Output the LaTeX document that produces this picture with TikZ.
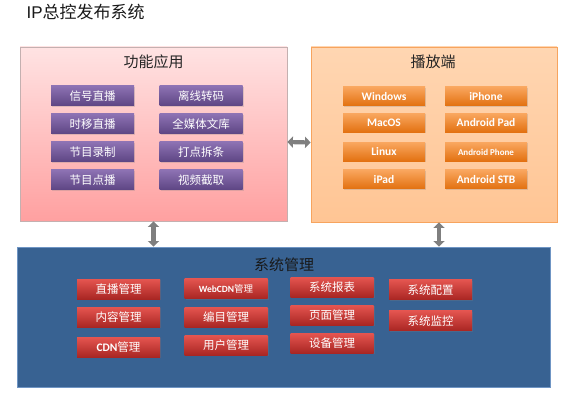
\documentclass[tikz,border=0pt]{standalone}
\usepackage{fontspec}
\setmainfont{Noto Sans CJK SC}
\newfontfamily\latin{Carlito}
\newfontfamily\headfont{Liberation Sans}
\usepackage{tikz}
\usetikzlibrary{arrows.meta,calc,positioning,shadows}
\definecolor{PinkTop}{HTML}{FFE3E3}
\definecolor{PinkBot}{HTML}{FFA0A0}
\definecolor{PinkLine}{HTML}{C4B0B0}
\definecolor{OrangeTop}{HTML}{FFD6B2}
\definecolor{OrangeBot}{HTML}{FFC594}
\definecolor{OrangeLine}{HTML}{F7A45E}
\definecolor{SysBlue}{HTML}{386292}
\definecolor{SysLine}{HTML}{6F95C4}
\definecolor{PurpleTop}{HTML}{8D72B3}
\definecolor{PurpleBot}{HTML}{5D4583}
\definecolor{BtnOrangeTop}{HTML}{F9A65E}
\definecolor{BtnOrangeBot}{HTML}{E2700F}
\definecolor{BtnRedTop}{HTML}{E3544F}
\definecolor{BtnRedBot}{HTML}{A82522}
\definecolor{LinkGray}{HTML}{7F7F7F}

\begin{document}
\begin{tikzpicture}[x=1pt,y=-1pt,>=Latex,
  panel/.style={draw,line width=0.8pt,inner sep=0pt},
  paneltitle/.style={font=\fontsize{15}{16}\selectfont,text=black!85},
  btn/.style={minimum width=83pt,minimum height=20pt,inner sep=0pt,text=white,
    font=\fontsize{11.5}{12}\selectfont,
    drop shadow={shadow xshift=1pt,shadow yshift=-1pt,opacity=0.25}},
  funcbtn/.style={btn,top color=PurpleTop,bottom color=PurpleBot},
  playbtn/.style={btn,minimum height=19pt,top color=BtnOrangeTop,bottom color=BtnOrangeBot,
    font=\latin\bfseries\fontsize{11.5}{12}\selectfont},
  sysbtn/.style={btn,top color=BtnRedTop,bottom color=BtnRedBot},
  link/.style={{Triangle[width=11pt,length=5.5pt]}-{Triangle[width=11pt,length=5.5pt]},
    line width=4.2pt,draw=LinkGray}]
  \useasboundingbox (0,0) rectangle (576,403);
  \node[anchor=west,font=\fontsize{17}{18}\selectfont,text=black!90] (title) at (23,12)
    {{\headfont IP}总控发布系统};

  % panels
  \node[panel,draw=PinkLine,top color=PinkTop,bottom color=PinkBot,
    minimum width=267pt,minimum height=174pt] (func) at (153.5,134) {};
  \node[panel,draw=OrangeLine,top color=OrangeTop,bottom color=OrangeBot,
    minimum width=246pt,minimum height=175pt] (play) at (434,134.5) {};
  \node[panel,draw=SysLine,fill=SysBlue,
    minimum width=533pt,minimum height=140pt] (sys) at (283.5,317) {};
  \node[paneltitle] (functitle) at (153.5,62) {功能应用};
  \node[paneltitle] (playtitle) at (433,62) {播放端};
  \node[paneltitle,text=black!90] (systitle) at (284,265) {系统管理};

  % function buttons
  \foreach \n/\x/\y/\t in {a1/92.5/96/信号直播,a2/92.5/124/时移直播,a3/92.5/152/节目录制,
      a4/92.5/180/节目点播,a5/201/96/离线转码,a6/201/124/全媒体文库,a7/201/152/打点拆条,
      a8/201/180/视频截取}{
    \node[funcbtn] (\n) at (\x,\y) {\t};
  }
  % player buttons
  \foreach \n/\x/\y/\t in {b1/384/96.5/Windows,b2/384/123/MacOS,b3/384/152/Linux,
      b4/384/179.5/iPad,b5/486/96.5/iPhone,b6/486/123/Android Pad,
      b7/486/152/{\fontsize{9}{10}\selectfont Android Phone},b8/486/179.5/Android STB}{
    \node[playbtn,minimum width=82pt] (\n) at (\x,\y) {\t};
  }
  % system buttons
  \foreach \n/\x/\y/\t in {c1/118.5/289.5/直播管理,c2/118.5/317.5/内容管理,
      c3/118.5/347.5/{{\latin\bfseries CDN}管理},
      c4/226/289/{\fontsize{9.5}{10}\selectfont{\latin\bfseries WebCDN}管理},
      c5/226/317.5/编目管理,c6/226/345.5/用户管理,c7/332/287.5/系统报表,
      c8/332/315.5/页面管理,c9/332/343.5/设备管理,c10/430.5/290/系统配置,
      c11/430.5/321/系统监控}{
    \node[sysbtn] (\n) at (\x,\y) {\t};
  }

  % links
  \draw[link] ([yshift=-8pt]func.east) -- ([yshift=-8pt]play.west);
  \draw[link] (func.south) -- (func.south |- sys.north);
  \draw[link] ([xshift=5pt]play.south) -- ([xshift=5pt]play.south |- sys.north);
\end{tikzpicture}
\end{document}
